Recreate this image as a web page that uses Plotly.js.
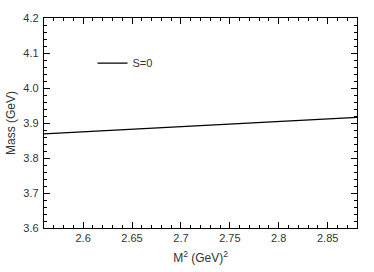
<!DOCTYPE html>
<html>
<head>
<meta charset="utf-8">
<script src="https://cdn.plot.ly/plotly-3.0.1.min.js"></script>
<style>html,body{margin:0;padding:0;background:#fff;}#chart{width:374px;height:272px;}</style>
</head>
<body>
<div id="chart"></div>
<script>
var seriesName = "S=0";
var borelM2 = [2.56, 2.60, 2.65, 2.70, 2.75, 2.80, 2.85, 2.88];
var massS0 = [3.869, 3.875, 3.882, 3.890, 3.897, 3.904, 3.911, 3.916];

var axisCommon = {
  showline: true, linecolor: '#000', linewidth: 1.2, mirror: 'allticks',
  ticks: 'inside', ticklen: 6, tickwidth: 1, tickcolor: '#000',
  showgrid: false, zeroline: false,
  tickfont: {family: 'Liberation Sans, Arial, sans-serif', size: 11, color: '#333'}
};

var layout = {
  width: 374, height: 272,
  margin: {l: 44, r: 17, t: 18, b: 44},
  paper_bgcolor: '#fff', plot_bgcolor: '#fff',
  showlegend: true,
  legend: {x: 0.155, y: 0.785, xanchor: 'left', yanchor: 'middle', bgcolor: 'rgba(0,0,0,0)',
    font: {family: 'Liberation Sans, Arial, sans-serif', size: 11, color: '#333'}},
  xaxis: Object.assign({}, axisCommon, {
    range: [2.56, 2.88], dtick: 0.05, tick0: 2.6,
    minor: {dtick: 0.01, tick0: 2.6, ticks: 'inside', ticklen: 3, tickcolor: '#000'},
    title: {text: 'M<sup>2</sup> (GeV)<sup>2</sup>', standoff: 10,
      font: {family: 'Liberation Sans, Arial, sans-serif', size: 12, color: '#333'}}
  }),
  yaxis: Object.assign({}, axisCommon, {
    range: [3.6, 4.2], dtick: 0.1, tickformat: '.1f', ticklabelstandoff: 2,
    minor: {dtick: 0.02, ticks: 'inside', ticklen: 3, tickcolor: '#000'},
    title: {text: 'Mass (GeV)', standoff: 5,
      font: {family: 'Liberation Sans, Arial, sans-serif', size: 12, color: '#333'}}
  })
};

var traces = [{
  x: borelM2, y: massS0, type: 'scatter', mode: 'lines', name: seriesName,
  line: {color: '#000', width: 1.2}
}];

Plotly.newPlot('chart', traces, layout, {displayModeBar: false, staticPlot: true});
</script>
</body>
</html>
